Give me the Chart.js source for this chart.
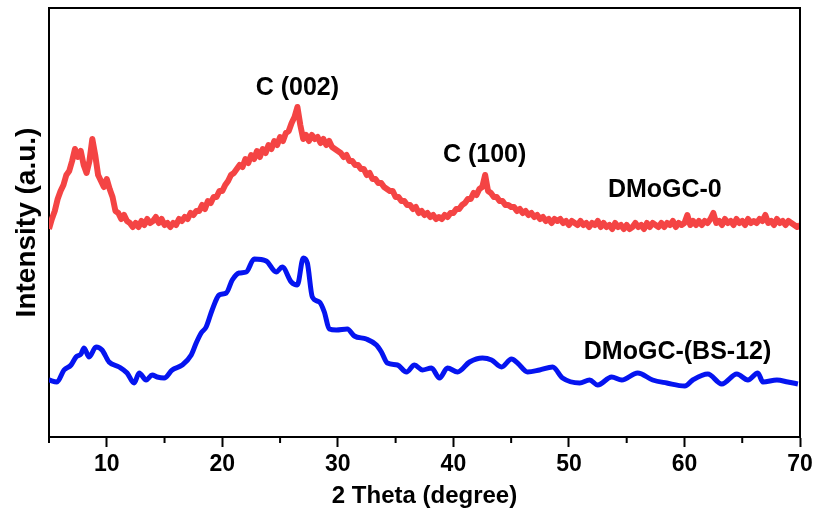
<!DOCTYPE html>
<html>
<head>
<meta charset="utf-8">
<script src="https://cdn.jsdelivr.net/npm/chart.js@4.4.0/dist/chart.umd.min.js"></script>
<style>
  html, body { margin: 0; padding: 0; background: #fff; }
  #wrap { width: 813px; height: 522px; }
</style>
</head>
<body>
<div id="wrap"><canvas id="xrdChart" width="813" height="522"></canvas></div>
<script>
// 2 theta scan grid for DMoGC-0 (5 to 70 deg, 0.25 deg step)
const redStart = 5;
const redStep = 0.25;

// DMoGC-0 intensity (a.u.)
const redY = [
  208, 218, 226, 238, 246, 252, 262, 266, 276, 288, 280, 286, 272, 264, 276, 298,
  282, 262, 256, 250, 258, 248, 240, 226, 224, 218, 222, 216, 214, 210, 214, 210,
  216, 212, 218, 214, 216, 220, 214, 218, 212, 214, 210, 214, 212, 218, 216, 220,
  218, 224, 222, 226, 226, 232, 228, 236, 234, 240, 240, 246, 246, 252, 256, 262,
  264, 268, 272, 270, 278, 274, 282, 278, 286, 280, 288, 284, 292, 288, 296, 292,
  300, 296, 304, 306, 314, 320, 330, 312, 298, 302, 296, 302, 298, 300, 294, 298,
  292, 296, 290, 288, 286, 284, 280, 282, 276, 276, 272, 272, 268, 268, 262, 264,
  258, 258, 254, 254, 250, 248, 246, 246, 240, 240, 236, 236, 232, 232, 228, 230,
  224, 226, 222, 224, 220, 222, 218, 220, 218, 222, 220, 224, 224, 228, 228, 232,
  234, 238, 238, 244, 242, 248, 250, 262, 246, 244, 240, 240, 236, 236, 232, 232,
  230, 230, 226, 228, 224, 226, 222, 224, 220, 222, 218, 220, 216, 218, 214, 218,
  216, 218, 214, 216, 212, 216, 214, 212, 216, 212, 214, 210, 214, 212, 216, 210,
  214, 210, 212, 208, 214, 210, 212, 208, 212, 208, 210, 214, 210, 212, 208, 214,
  210, 214, 212, 210, 214, 210, 214, 212, 216, 210, 214, 212, 214, 222, 212, 216,
  212, 216, 212, 216, 214, 218, 224, 214, 216, 212, 218, 214, 216, 212, 218, 214,
  216, 212, 218, 214, 216, 214, 218, 216, 222, 214, 216, 212, 218, 214, 216, 212,
  216, 214, 212, 210, 212
];

// DMoGC-(BS-12)
const blueX = [
  5.0, 5.69, 6.30, 6.91, 7.34, 7.77, 8.03, 8.47, 9.07, 9.59, 10.2, 11.07, 11.76,
  12.37, 12.80, 13.41, 13.93, 14.36, 14.97, 15.66, 16.53, 17.31, 17.74, 18.17,
  18.60, 19.12, 19.73, 20.34, 20.86, 21.46, 22.07, 22.76, 23.80, 24.67, 25.19,
  25.97, 26.49, 27.01, 27.36, 27.79, 28.40, 28.83, 29.26, 29.87, 30.82, 31.43,
  32.47, 33.34, 33.77, 34.29, 35.16, 35.94, 36.63, 37.32, 38.10, 38.80, 39.49,
  40.36, 41.40, 42.52, 43.30, 44.17, 45.03, 45.55, 46.42, 47.46, 48.59, 49.45,
  50.93, 51.79, 52.49, 53.70, 54.57, 55.95, 57.25, 58.47, 60.03, 60.72, 62.02,
  63.23, 64.53, 65.49, 66.35, 66.79, 68.0, 68.95, 69.82
];
const blueY = [
  57, 55, 67, 72, 80, 83, 89, 80, 90, 87, 75, 70, 64,
  54, 64, 57, 62, 60, 59, 67, 72, 82, 94, 104,
  110, 127, 142, 144, 157, 164, 165, 178, 176, 165, 170,
  155, 152, 179, 174, 140, 135, 125, 108, 107, 108, 101,
  98, 92, 85, 74, 72, 65, 72, 67, 69, 59, 69,
  65, 75, 79, 77, 70, 78, 74, 65, 67, 70, 59,
  54, 57, 52, 60, 57, 64, 57, 54, 51, 57, 63,
  53, 63, 57, 64, 55, 57, 55, 53
];

const xTicks = [10, 20, 30, 40, 50, 60, 70];
const xMinorTicks = [5, 15, 25, 35, 45, 55, 65];

const peakLabels = [
  { text: 'C (002)', x: 26.5, y: 349 },
  { text: 'C (100)', x: 42.7, y: 282 },
  { text: 'DMoGC-0', x: 58.3, y: 247 },
  { text: 'DMoGC-(BS-12)', x: 59.4, y: 85 }
];

const FONT = '"Liberation Sans", Arial, Helvetica, sans-serif';

const redData = redY.map((v, i) => ({ x: redStart + i * redStep, y: v }));
const blueData = blueX.map((v, i) => ({ x: v, y: blueY[i] }));

// frame, minor ticks and peak labels
const decorPlugin = {
  id: 'decor',
  afterDraw(chart) {
    const { ctx, chartArea: a, scales } = chart;
    ctx.save();
    ctx.strokeStyle = '#000';
    ctx.lineWidth = 2;
    ctx.beginPath();
    ctx.moveTo(a.left, a.top);
    ctx.lineTo(a.right, a.top);
    ctx.lineTo(a.right, a.bottom);
    ctx.stroke();

    // minor ticks
    xMinorTicks.forEach(v => {
      const px = scales.x.getPixelForValue(v);
      ctx.beginPath();
      ctx.moveTo(px, a.bottom);
      ctx.lineTo(px, a.bottom + 6);
      ctx.stroke();
    });

    ctx.fillStyle = '#000';
    ctx.font = 'bold 25px ' + FONT;
    ctx.textAlign = 'center';
    ctx.textBaseline = 'middle';
    peakLabels.forEach(l => {
      ctx.fillText(l.text, scales.x.getPixelForValue(l.x), scales.y.getPixelForValue(l.y));
    });
    ctx.restore();
  }
};

new Chart(document.getElementById('xrdChart'), {
  type: 'line',
  data: {
    datasets: [
      {
        label: 'DMoGC-0',
        data: redData,
        borderColor: '#F44444',
        borderWidth: 6,
        pointRadius: 0,
        tension: 0,
        borderJoinStyle: 'round'
      },
      {
        label: 'DMoGC-(BS-12)',
        data: blueData,
        borderColor: '#0514F0',
        borderWidth: 5,
        pointRadius: 0,
        cubicInterpolationMode: 'monotone',
        borderJoinStyle: 'round'
      }
    ]
  },
  options: {
    responsive: false,
    animation: false,
    layout: { padding: { left: 0, top: 8, right: 13, bottom: 0 } },
    plugins: {
      legend: { display: false },
      tooltip: { enabled: false }
    },
    scales: {
      x: {
        type: 'linear',
        min: 5,
        max: 70,
        afterFit: s => { s.height = 85; s.paddingLeft = 0; s.paddingRight = 0; },
        afterBuildTicks: s => {
          s.ticks = xMinorTicks.concat(xTicks).sort((p, q) => p - q).map(v => ({ value: v }));
        },
        border: { display: true, color: '#000', width: 2 },
        grid: {
          display: true,
          drawOnChartArea: false,
          drawTicks: true,
          tickLength: 10,
          tickWidth: 2,
          tickColor: c => (c.tick && c.tick.value % 10 === 0) ? '#000' : 'rgba(0,0,0,0)'
        },
        ticks: {
          color: '#000',
          padding: 4,
          maxRotation: 0,
          autoSkip: false,
          font: { family: FONT, size: 23, weight: 'bold' },
          callback: v => (v % 10 === 0 ? String(v) : '')
        },
        title: {
          display: true,
          text: '2 Theta (degree)',
          color: '#000',
          font: { family: FONT, size: 24, weight: 'bold', lineHeight: 1 },
          padding: { top: 0, bottom: 14 }
        }
      },
      y: {
        min: 0,
        max: 429,
        afterFit: s => { s.width = 49; },
        border: { display: true, color: '#000', width: 2 },
        grid: { display: false },
        ticks: { display: false },
        title: {
          display: true,
          text: 'Intensity (a.u.)',
          color: '#000',
          font: { family: FONT, size: 28, weight: 'bold', lineHeight: 1 },
          padding: { top: 13, bottom: 0 }
        }
      }
    }
  },
  plugins: [decorPlugin]
});
</script>
</body>
</html>
